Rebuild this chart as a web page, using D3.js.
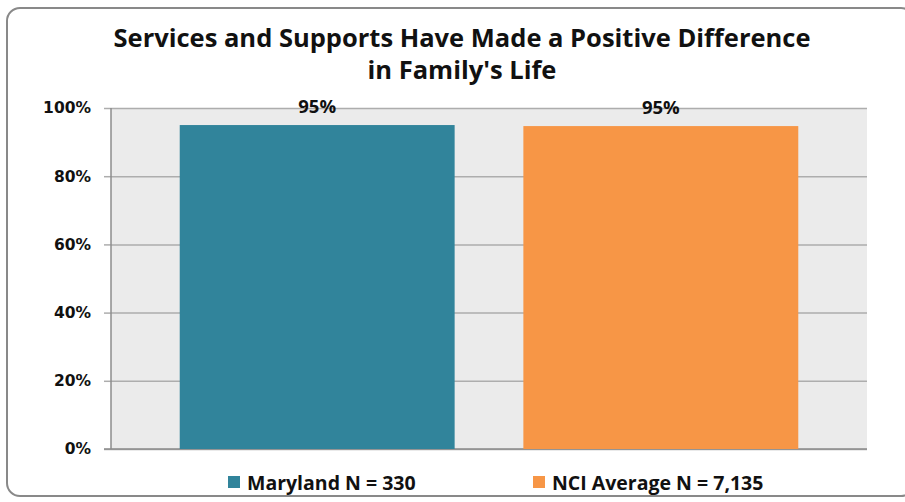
<!DOCTYPE html>
<html><head><meta charset="utf-8">
<script src="https://cdn.jsdelivr.net/npm/d3@7"></script>
<style>html,body{margin:0;padding:0;background:#fff;}svg{display:block;}</style>
</head><body>
<svg id="chart" width="905" height="502"></svg>
<script>
const titleLines = ["Services and Supports Have Made a Positive Difference", "in Family's Life"];
const seriesNames = ["Maryland N = 330", "NCI Average N = 7,135"];
const seriesValues = [0.95, 0.947];
const valueLabels = ["95%", "95%"];
const seriesColors = ["#31849B", "#F79646"];
const yTicks = [0, 0.2, 0.4, 0.6, 0.8, 1.0];

const svg = d3.select("#chart");
const m = {left: 111, right: 867, top: 108, bottom: 449};
const calibriLike = "'Open Sans', Lato, sans-serif";

svg.append("rect").attr("x", 7).attr("y", 8).attr("width", 907).attr("height", 488)
  .attr("rx", 13).attr("fill", "#fff").attr("stroke", "#898989").attr("stroke-width", 2);

const title = svg.append("text").attr("text-anchor", "middle")
  .attr("font-family", calibriLike).attr("font-weight", 700)
  .attr("font-size", 25.5).attr("fill", "#111");
titleLines.forEach((t, i) => title.append("tspan").attr("x", 462).attr("y", 47 + i * 32).text(t));

const x = d3.scaleBand().domain(seriesNames).range([m.left, m.right]).paddingInner(0.2).paddingOuter(0.2);
const y = d3.scaleLinear().domain([0, 1]).range([m.bottom, m.top]);

svg.append("rect").attr("x", m.left).attr("y", m.top).attr("width", m.right - m.left)
  .attr("height", m.bottom - m.top).attr("fill", "#EBEBEB");

const yAxis = d3.axisLeft(y).tickValues(yTicks).tickFormat(d3.format(".0%"))
  .tickSize(-(m.right - m.left)).tickPadding(20);
const ga = svg.append("g").attr("transform", `translate(${m.left},0)`).call(yAxis);
ga.select(".domain").remove();
ga.selectAll(".tick line").attr("stroke", "#ADADAD").attr("stroke-width", 1.5);
ga.selectAll(".tick").append("line").attr("x1", -7).attr("x2", 0).attr("stroke", "#ADADAD").attr("stroke-width", 1.5);
ga.selectAll(".tick text").attr("font-family", "'DejaVu Sans', Verdana, sans-serif")
  .attr("font-weight", 700).attr("font-size", 15.5).attr("fill", "#111");

svg.append("line").attr("x1", m.left).attr("x2", m.left).attr("y1", m.top).attr("y2", m.bottom)
  .attr("stroke", "#8C8C8C").attr("stroke-width", 1.5);
svg.append("line").attr("x1", m.left - 7).attr("x2", m.right).attr("y1", m.bottom).attr("y2", m.bottom)
  .attr("stroke", "#8C8C8C").attr("stroke-width", 1.5);

svg.selectAll("rect.bar").data(seriesNames).join("rect").attr("class", "bar")
  .attr("x", d => x(d)).attr("width", x.bandwidth())
  .attr("y", (d, i) => y(seriesValues[i])).attr("height", (d, i) => y(0) - y(seriesValues[i]))
  .attr("fill", (d, i) => seriesColors[i]);

svg.selectAll("text.vlab").data(seriesNames).join("text").attr("class", "vlab")
  .attr("x", d => x(d) + x.bandwidth() / 2).attr("y", (d, i) => y(seriesValues[i]) - 12)
  .attr("text-anchor", "middle").attr("font-family", calibriLike)
  .attr("font-weight", 700).attr("font-size", 18.5).attr("fill", "#111")
  .text((d, i) => valueLabels[i]);

const legX = [228, 533];
const lg = svg.selectAll("g.leg").data(seriesNames).join("g").attr("class", "leg")
  .attr("transform", (d, i) => `translate(${legX[i]},476)`);
lg.append("rect").attr("width", 12).attr("height", 12).attr("fill", (d, i) => seriesColors[i]);
lg.append("text").attr("x", 19).attr("y", 14).attr("font-family", calibriLike)
  .attr("font-weight", 700).attr("font-size", 19.5).attr("fill", "#111").text(d => d);
</script>
</body></html>
